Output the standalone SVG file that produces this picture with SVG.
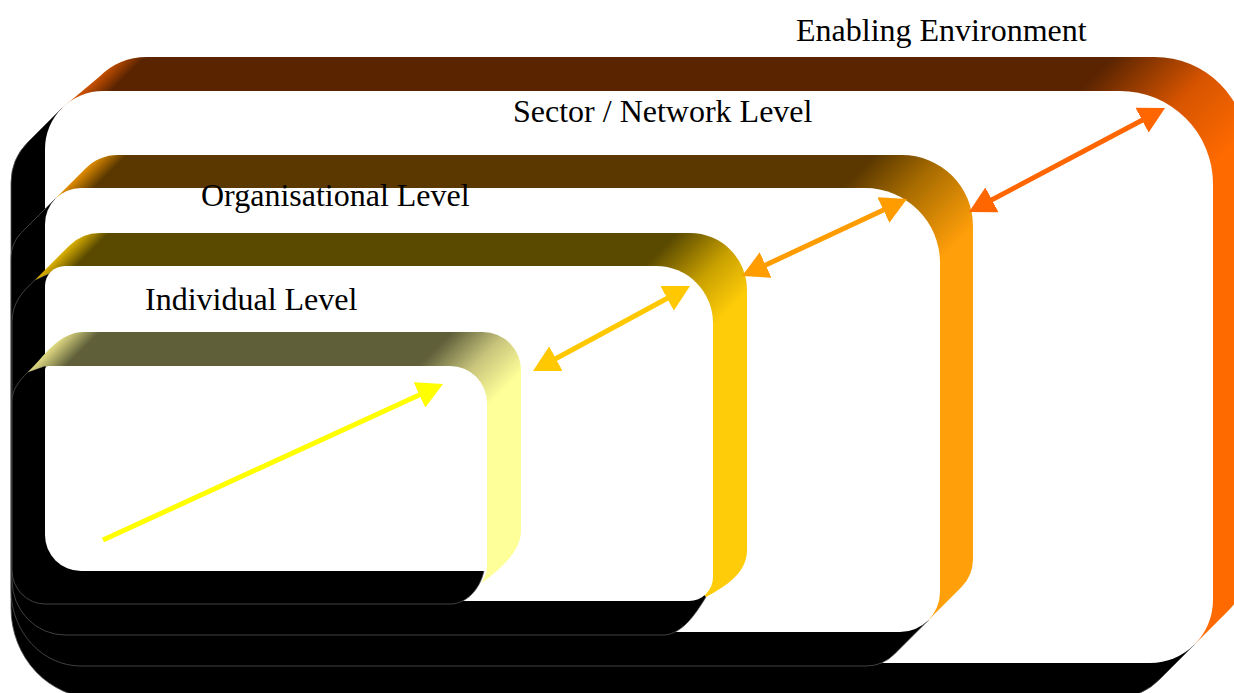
<svg xmlns="http://www.w3.org/2000/svg" width="1234" height="693" viewBox="0 0 1234 693">
  <style>
    .face { fill: #ffffff; }
    .shadow { fill: #000000; stroke: #505050; stroke-width: 0.8; }
    .label { font-family: "Liberation Serif", "Times New Roman", serif; font-size: 32px; fill: #000000; }
    .link { fill: none; stroke-width: 5; }
  </style>
  <defs>
    <!-- side shading: iso-colour lines run along the extrusion direction -->
    <linearGradient id="side-env" gradientUnits="userSpaceOnUse" x1="0" y1="0" x2="1000" y2="1000">
      <stop offset="0.085" stop-color="#dc5800"/>
      <stop offset="0.101" stop-color="#5a2400"/>
      <stop offset="0.585" stop-color="#5a2400"/>
      <stop offset="0.64" stop-color="#d65400"/>
      <stop offset="0.69" stop-color="#ff6a00"/>
    </linearGradient>
    <linearGradient id="side-net" gradientUnits="userSpaceOnUse" x1="0" y1="0" x2="1000" y2="1000">
      <stop offset="0.127" stop-color="#e08c00"/>
      <stop offset="0.141" stop-color="#5a3800"/>
      <stop offset="0.515" stop-color="#5a3800"/>
      <stop offset="0.55" stop-color="#a86c00"/>
      <stop offset="0.6" stop-color="#ff9f0a"/>
    </linearGradient>
    <linearGradient id="side-org" gradientUnits="userSpaceOnUse" x1="0" y1="0" x2="1000" y2="1000">
      <stop offset="0.157" stop-color="#e0b400"/>
      <stop offset="0.171" stop-color="#5a4a00"/>
      <stop offset="0.455" stop-color="#5a4a00"/>
      <stop offset="0.49" stop-color="#c8a000"/>
      <stop offset="0.52" stop-color="#ffcc0a"/>
    </linearGradient>
    <linearGradient id="side-ind" gradientUnits="userSpaceOnUse" x1="0" y1="0" x2="1000" y2="1000">
      <stop offset="0.2" stop-color="#dcd680"/>
      <stop offset="0.216" stop-color="#5f5f3a"/>
      <stop offset="0.392" stop-color="#5f5f3a"/>
      <stop offset="0.42" stop-color="#c8c47c"/>
      <stop offset="0.447" stop-color="#ffff99"/>
    </linearGradient>
    <marker id="head-yellow" viewBox="0 0 26 28" refX="16" refY="14" markerWidth="26" markerHeight="28" markerUnits="userSpaceOnUse" orient="auto-start-reverse">
      <path d="M0 0 L26 14 L0 28 Z" fill="#ffff00"/>
    </marker>
    <marker id="head-gold" viewBox="0 0 26 28" refX="16" refY="14" markerWidth="26" markerHeight="28" markerUnits="userSpaceOnUse" orient="auto-start-reverse">
      <path d="M0 0 L26 14 L0 28 Z" fill="#ffc800"/>
    </marker>
    <marker id="head-amber" viewBox="0 0 26 28" refX="16" refY="14" markerWidth="26" markerHeight="28" markerUnits="userSpaceOnUse" orient="auto-start-reverse">
      <path d="M0 0 L26 14 L0 28 Z" fill="#ff9c00"/>
    </marker>
    <marker id="head-orange" viewBox="0 0 26 28" refX="16" refY="14" markerWidth="26" markerHeight="28" markerUnits="userSpaceOnUse" orient="auto-start-reverse">
      <path d="M0 0 L26 14 L0 28 Z" fill="#ff6600"/>
    </marker>
  </defs>

  <!-- outermost box -->
  <g id="enabling-environment">
    <path class="shadow" d="M62 108 L28 142 A58 58 0 0 0 11 183 V608 A85 90 0 0 0 96 698 H1116 A63 63 0 0 0 1160.5 678.5 L1194.5 644.5 L640 377 Z"/>
    <path fill="url(#side-env)" d="M62 108 L99 77 A68 68 0 0 1 147 57 H1155 A92 92 0 0 1 1247 149 V566 A63 63 0 0 1 1228.5 610.5 L1194.5 644.5 L640 377 Z"/>
    <path class="face" d="M103 91 H1120 A93 93 0 0 1 1213 184 V600 A63 63 0 0 1 1150 663 H105 A60 60 0 0 1 45 603 V149 A58 58 0 0 1 103 91 Z"/>
  </g>

  <g id="sector-network-level">
    <path class="shadow" d="M55.5 198.5 L21.5 232.5 A36 36 0 0 0 11 258 V590 A70 76 0 0 0 81 666 H866 A40 40 0 0 0 894.3 654.3 L928.3 620.3 L490 410 Z"/>
    <path fill="url(#side-net)" d="M55.5 198.5 L85.5 168.5 A46 46 0 0 1 118 155 H902 A71 71 0 0 1 973 226 V559 A40 40 0 0 1 961.3 587.3 L928.3 620.3 L490 410 Z"/>
    <path class="face" d="M81 188 H865 A75 75 0 0 1 940 263 V592 A40 40 0 0 1 900 632 H85 A40 40 0 0 1 45 592 V224 A36 36 0 0 1 81 188 Z"/>
  </g>

  <g id="organisational-level">
    <path class="shadow" d="M35 280 C24 290 12 302 12 322 V580 A53 55 0 0 0 65 635 H664 C682 634 695 615 706 597 L700 588 L380 430 L50 273 Z"/>
    <path fill="url(#side-org)" d="M35 280 L69.2 245.7 A43.5 43.5 0 0 1 100 233 H690 A57 57 0 0 1 747 290 V550 C747 572 728 585 706 597 L700 588 L380 430 L50 273 Z"/>
    <path class="face" d="M65 266 H656 A57 57 0 0 1 713 323 V577 A24 24 0 0 1 689 601 H98 A53 53 0 0 1 45 548 V286 A20 20 0 0 1 65 266 Z"/>
  </g>

  <g id="individual-level">
    <path class="shadow" d="M28 372 C18 382 12 390 12 402 V570 A33 34 0 0 0 45 604 H452 C465 603 479 592 484 571 L480 566 L266 468 L45 366 Z"/>
    <path fill="url(#side-ind)" d="M28 372 C44 357 58 332 84 332 H483 A38 38 0 0 1 521 370 V530 C521 551 503 567 482 583 L487 571 L266 468 L45 366 Z"/>
    <path class="face" d="M49 366 H450 A37 37 0 0 1 487 403 V568 A3 3 0 0 1 484 571 H81 A36 36 0 0 1 45 535 V370 A4 4 0 0 1 49 366 Z"/>
  </g>

  <g id="connectors">
    <path class="link" stroke="#ffff00" d="M103 540 L433.9 388.2" marker-end="url(#head-yellow)"/>
    <path class="link" stroke="#ffc800" d="M541.8 366.2 L681.2 290.8" marker-start="url(#head-gold)" marker-end="url(#head-gold)"/>
    <path class="link" stroke="#ff9c00" d="M751.1 271.8 L897.9 203.2" marker-start="url(#head-amber)" marker-end="url(#head-amber)"/>
    <path class="link" stroke="#ff6600" d="M977.8 207.3 L1156.2 112.7" marker-start="url(#head-orange)" marker-end="url(#head-orange)"/>
  </g>

  <g id="labels">
    <text class="label" x="796" y="41">Enabling Environment</text>
    <text class="label" x="513" y="122">Sector / Network Level</text>
    <text class="label" x="201" y="206">Organisational Level</text>
    <text class="label" x="145" y="310">Individual Level</text>
  </g>
</svg>
